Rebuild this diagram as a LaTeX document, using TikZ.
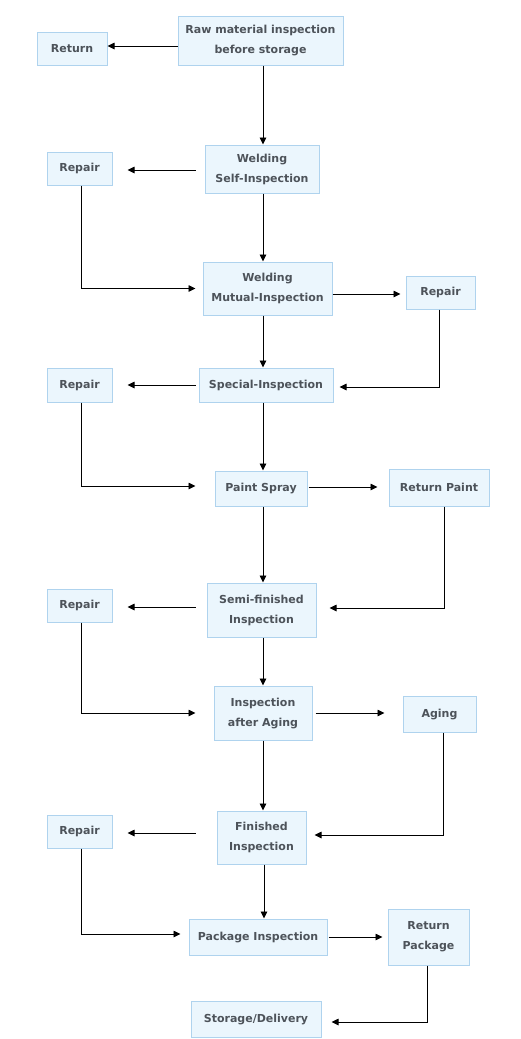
\documentclass[tikz,border=0pt]{standalone}
\usepackage{fontspec}
\setmainfont{DejaVu Sans}
\usetikzlibrary{arrows.meta}
\definecolor{boxfill}{HTML}{EBF6FD}
\definecolor{boxline}{HTML}{AFD3EE}
\definecolor{txt}{HTML}{4D535A}
\begin{document}
\begin{tikzpicture}[x=1pt,y=-1pt,
  box/.style={draw=boxline, fill=boxfill, line width=1pt, inner sep=0pt, align=center,
    text=txt, font=\fontsize{11}{20}\selectfont\bfseries},
  arr/.style={line width=0.9pt, -{Triangle[length=7pt,width=6.5pt]}}]
\fill[white] (0,0) rectangle (520,1039);
\useasboundingbox (0,0) rectangle (520,1039);
\coordinate (vx) at (263,0);
% nodes
\node[box, minimum width=165pt, minimum height=49pt] (raw) at (260.5,40.5) {Raw material inspection\\before storage};
\node[box, minimum width=70pt, minimum height=33pt] (ret) at (72,48.5) {Return};
\node[box, minimum width=114pt, minimum height=48pt] (wsi) at (262,169) {Welding\\Self-Inspection};
\node[box, minimum width=65pt, minimum height=33pt] (rep1) at (79.5,168.5) {Repair};
\node[box, minimum width=129pt, minimum height=53pt] (wmi) at (267.5,288.5) {Welding\\Mutual-Inspection};
\node[box, minimum width=69pt, minimum height=33pt] (rep2) at (440.5,292.5) {Repair};
\node[box, minimum width=134pt, minimum height=34pt] (spi) at (266,385) {Special-Inspection};
\node[box, minimum width=65pt, minimum height=34pt] (rep3) at (79.5,385) {Repair};
\node[box, minimum width=92pt, minimum height=35pt] (ps) at (261,488.5) {Paint Spray};
\node[box, minimum width=100pt, minimum height=37pt] (rp) at (439,487.5) {Return Paint};
\node[box, minimum width=109pt, minimum height=54pt] (semi) at (261.5,610) {Semi-finished\\Inspection};
\node[box, minimum width=65pt, minimum height=33pt] (rep4) at (79.5,605.5) {Repair};
\node[box, minimum width=98pt, minimum height=54pt] (iaa) at (263,713) {Inspection\\after Aging};
\node[box, minimum width=73pt, minimum height=36pt] (aging) at (439.5,714) {Aging};
\node[box, minimum width=89pt, minimum height=53pt] (fin) at (261.5,837.5) {Finished\\Inspection};
\node[box, minimum width=65pt, minimum height=33pt] (rep5) at (79.5,831.5) {Repair};
\node[box, minimum width=138pt, minimum height=36pt] (pkg) at (258,937) {Package Inspection};
\node[box, minimum width=81pt, minimum height=56pt] (rpk) at (428.5,937) {Return\\Package};
\node[box, minimum width=130pt, minimum height=36pt] (sd) at (256,1019) {Storage/Delivery};
% main vertical flow
\draw[arr] (raw.south -| vx) -- (wsi.north -| vx);
\draw[arr] (wsi.south -| vx) -- (wmi.north -| vx);
\draw[arr] (wmi.south -| vx) -- (spi.north -| vx);
\draw[arr] (spi.south -| vx) -- (ps.north -| vx);
\draw[arr] (ps.south -| vx) -- (semi.north -| vx);
\draw[arr] (semi.south -| vx) -- (iaa.north -| vx);
\draw[arr] (iaa.south -| vx) -- (fin.north -| vx);
\draw[arr] ([xshift=1pt]fin.south -| vx) -- ([xshift=1pt]pkg.north -| vx);
% left branches
\draw[arr] ([yshift=-5.5pt]raw.west) -- ([yshift=-5.5pt]raw.west -| ret.east);
\draw[arr, shorten <=9pt, shorten >=15pt] ([yshift=-1pt]wsi.west) -- ([yshift=-1pt]wsi.west -| rep1.east);
\draw[arr, shorten <=3pt, shorten >=15pt] (spi.west) -- (spi.west -| rep3.east);
\draw[arr, shorten <=11pt, shorten >=15pt] ([yshift=3pt]semi.west) -- ([yshift=3pt]semi.west -| rep4.east);
\draw[arr, shorten <=21pt, shorten >=15pt] ([yshift=4.5pt]fin.west) -- ([yshift=4.5pt]fin.west -| rep5.east);
% left returns
\draw[arr, shorten >=7pt] ([xshift=1.5pt]rep1.south) |- (wmi.west);
\draw[arr, shorten >=19pt] ([xshift=1.5pt]rep3.south) |- ([yshift=2.5pt]ps.west);
\draw[arr, shorten >=18pt] ([xshift=1.5pt]rep4.south) |- (iaa.west);
\draw[arr, shorten >=8pt] ([xshift=1.5pt]rep5.south) |- ([yshift=3pt]pkg.west);
% right branches
\draw[arr, shorten >=5pt] ([yshift=-1.5pt]wmi.east |- rep2) -- ([yshift=-1.5pt]rep2.west);
\draw[arr, shorten <=1pt, shorten >=11pt] ([yshift=1.5pt]ps.east) -- ([yshift=1.5pt]ps.east -| rp.west);
\draw[arr, shorten <=3pt, shorten >=18pt] (iaa.east) -- (iaa.east -| aging.west);
\draw[arr, shorten <=1pt, shorten >=5pt] (pkg.east) -- (rpk.west);
% right returns
\draw[arr, shorten >=6pt] ([xshift=-1.5pt]rep2.south) |- ([yshift=-2pt]spi.east);
\draw[arr, shorten >=13pt] ([xshift=5pt]rp.south) |- ([yshift=2pt]semi.east);
\draw[arr, shorten >=8pt] ([xshift=3.5pt]aging.south) |- ([yshift=2.5pt]fin.east);
\draw[arr, shorten >=10pt] ([xshift=-1.5pt]rpk.south) |- ([yshift=-3pt]sd.east);
\end{tikzpicture}
\end{document}
